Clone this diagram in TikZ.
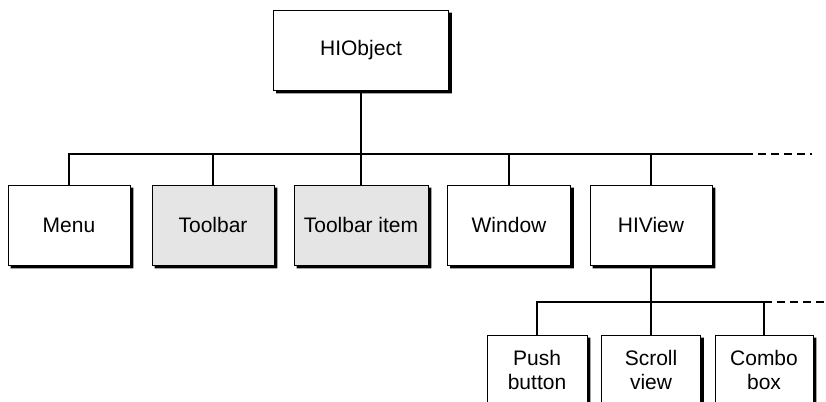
\documentclass[tikz,border=0pt]{standalone}
\usepackage{fontspec}
\setmainfont{Liberation Sans}
\usetikzlibrary{calc}

\tikzset{
  classbox/.style={draw=black, line width=0.8pt, fill=white, inner sep=0pt,
    align=center, font=\fontsize{21}{24}\selectfont},
  greybox/.style={classbox, fill=gray!20},
  boxshadow/.style={fill=black},
  conn/.style={line width=1.3pt},
  more/.style={line width=1.3pt, dash pattern=on 8pt off 5pt}
}

\begin{document}
\begin{tikzpicture}[x=1pt, y=-1pt]
\useasboundingbox (0,0) rectangle (826,401);
%%%%% Root %%%%%
\node[classbox, minimum width=175pt, minimum height=80pt] (hiobject) at (361,50) {HIObject};
%%%%% First level %%%%%
\node[classbox, minimum width=122pt, minimum height=80pt] (menu) at (69,225) {Menu};
\node[greybox, minimum width=122pt, minimum height=80pt] (toolbar) at (213,225) {Toolbar};
\node[greybox, minimum width=134pt, minimum height=80pt] (toolbaritem) at (361,225) {Toolbar item};
\node[classbox, minimum width=123pt, minimum height=80pt] (window) at (509,225) {Window};
\node[classbox, minimum width=122pt, minimum height=80pt] (hiview) at (651,225) {HIView};
%%%%% Second level %%%%%
\node[classbox, minimum width=100pt, minimum height=70pt] (pushbutton) at (537,370) {Push\\button};
\node[classbox, minimum width=99pt, minimum height=70pt] (scrollview) at (651,370) {Scroll\\view};
\node[classbox, minimum width=98pt, minimum height=70pt] (combobox) at (764,370) {Combo\\box};
%%%%% Shadows: right and bottom edges %%%%%
\foreach \b in {hiobject,menu,toolbar,toolbaritem,window,hiview,pushbutton,scrollview,combobox}
  \fill[boxshadow] ($(\b.north east)+(0,3)$) rectangle ($(\b.south east)+(3,3)$)
                   ($(\b.south west)+(3,0)$) rectangle ($(\b.south east)+(3,3)$);
%%%%% Buses %%%%%
\coordinate (busend) at (745,154);
\coordinate (busmore) at (812,154);
\coordinate (subend) at (764,302);
\coordinate (submore) at (826,302);
\draw[conn] (hiobject.south) -- (hiobject.south |- busend);
\draw[conn] (menu.north) |- (busend);
\draw[more] (busend) -- (busmore);
\draw[conn] (toolbar.north) -- (toolbar.north |- busend);
\draw[conn] (toolbaritem.north) -- (toolbaritem.north |- busend);
\draw[conn] (window.north) -- (window.north |- busend);
\draw[conn] (hiview.north) -- (hiview.north |- busend);
\draw[conn] (hiview.south) -- (hiview.south |- subend);
\draw[conn] (pushbutton.north) |- (subend);
\draw[more] (subend) -- (submore);
\draw[conn] (scrollview.north) -- (scrollview.north |- subend);
\draw[conn] (combobox.north) -- (subend);
\end{tikzpicture}
\end{document}
